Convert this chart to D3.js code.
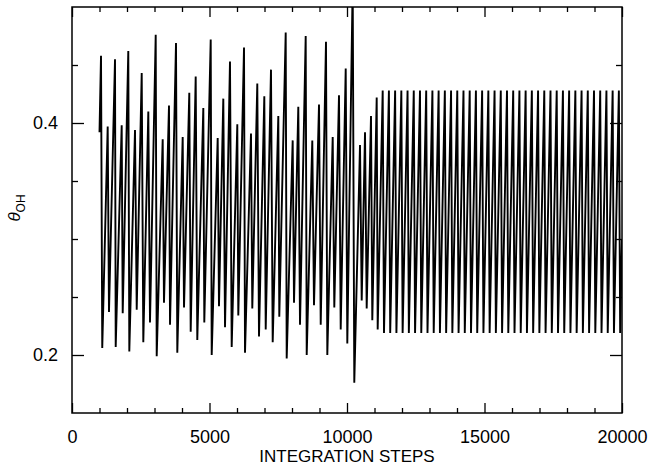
<!DOCTYPE html>
<html>
<head>
<meta charset="utf-8">
<script src="https://cdn.jsdelivr.net/npm/d3@7"></script>
<style>
  body { margin: 0; background: #fff; }
  svg { display: block; }
  text { font-family: "Liberation Sans", Arial, sans-serif; fill: #000; }
</style>
</head>
<body>
<div id="chart"></div>
<script>
// values (integration steps / theta_OH)
const startStep = 1000, startTheta = 0.392;
const endStep = 20000, endTheta = 0.300;

const peakStep = [
  1055, 1298, 1564, 1807, 2047, 2291, 2535, 2775, 3044, 3298,
  3527, 3782, 4025, 4265, 4498, 4775, 5044, 5298, 5502, 5745,
  6011, 6255, 6509, 6738, 6993, 7236, 7502, 7771, 8025, 8229,
  8498, 8738, 8982, 9236, 9480, 9709, 9953, 10207, 10473, 10655,
  10873, 11080, 11298,
  11524, 11750, 11976, 12202, 12428, 12654, 12880, 13106, 13332, 13558,
  13784, 14010, 14236, 14462, 14688, 14914, 15140, 15366, 15592, 15818,
  16044, 16270, 16496, 16722, 16948, 17174, 17400, 17626, 17852, 18078,
  18304, 18530, 18756, 18982, 19208, 19434, 19660, 19886
];
const peakTheta = [
  0.458, 0.397, 0.455, 0.398, 0.462, 0.394, 0.443, 0.410, 0.476, 0.386,
  0.415, 0.469, 0.388, 0.426, 0.440, 0.413, 0.472, 0.387, 0.421, 0.453,
  0.399, 0.465, 0.391, 0.434, 0.423, 0.446, 0.406, 0.478, 0.385, 0.414,
  0.475, 0.385, 0.416, 0.470, 0.388, 0.424, 0.447, 0.520, 0.381, 0.392,
  0.406, 0.422, 0.428,
  0.428, 0.428, 0.428, 0.428, 0.428, 0.428, 0.428, 0.428, 0.428, 0.428,
  0.428, 0.428, 0.428, 0.428, 0.428, 0.428, 0.428, 0.428, 0.428, 0.428,
  0.428, 0.428, 0.428, 0.428, 0.428, 0.428, 0.428, 0.428, 0.428, 0.428,
  0.428, 0.428, 0.428, 0.428, 0.428, 0.428, 0.428, 0.428
];
const troughStep = [
  1100, 1345, 1589, 1844, 2084, 2353, 2593, 2836, 3080, 3345,
  3564, 3829, 4073, 4316, 4556, 4811, 5080, 5345, 5564, 5807,
  6047, 6291, 6556, 6800, 7044, 7298, 7538, 7807, 8073, 8291,
  8535, 8800, 9044, 9284, 9538, 9771, 10011, 10265, 10535, 10716,
  10920, 11116, 11345,
  11571, 11797, 12023, 12249, 12475, 12701, 12927, 13153, 13379, 13605,
  13831, 14057, 14283, 14509, 14735, 14961, 15187, 15413, 15639, 15865,
  16091, 16317, 16543, 16769, 16995, 17221, 17447, 17673, 17899, 18125,
  18351, 18577, 18803, 19029, 19255, 19481, 19707, 19933
];
const troughTheta = [
  0.206, 0.237, 0.207, 0.236, 0.203, 0.239, 0.211, 0.228, 0.199, 0.245,
  0.226, 0.202, 0.241, 0.220, 0.213, 0.228, 0.200, 0.242, 0.224, 0.207,
  0.234, 0.202, 0.240, 0.216, 0.222, 0.211, 0.233, 0.197, 0.245, 0.226,
  0.200, 0.243, 0.226, 0.200, 0.241, 0.222, 0.210, 0.176, 0.247, 0.240,
  0.230, 0.222, 0.219,
  0.219, 0.219, 0.219, 0.219, 0.219, 0.219, 0.219, 0.219, 0.219, 0.219,
  0.219, 0.219, 0.219, 0.219, 0.219, 0.219, 0.219, 0.219, 0.219, 0.219,
  0.219, 0.219, 0.219, 0.219, 0.219, 0.219, 0.219, 0.219, 0.219, 0.219,
  0.219, 0.219, 0.219, 0.219, 0.219, 0.219, 0.219, 0.219
];

const xMajorTicks = [0, 5000, 10000, 15000, 20000];
const xMinorTicks = [1000, 2000, 3000, 4000, 6000, 7000, 8000, 9000, 11000, 12000, 13000, 14000, 16000, 17000, 18000, 19000];
const yMajorTicks = [0.2, 0.4];
const yMinorTicks = [0.25, 0.3, 0.35, 0.45];

const width = 650, height = 466;
const plotLeft = 72, plotRight = 622, plotTop = 7, plotBottom = 413;

const svg = d3.select('#chart').append('svg')
  .attr('width', width)
  .attr('height', height);

const x = d3.scaleLinear().domain([0, 20000]).range([plotLeft, plotRight]);
const y = d3.scaleLinear().domain([0.15, 0.5]).range([plotBottom, plotTop]);

// interleave peaks and troughs into one series
const series = [[startStep, startTheta]];
peakStep.forEach((s, i) => {
  series.push([s, peakTheta[i]]);
  series.push([troughStep[i], troughTheta[i]]);
});
series.push([endStep, endTheta]);

svg.append('clipPath').attr('id', 'clip')
  .append('rect')
  .attr('x', plotLeft).attr('y', plotTop)
  .attr('width', plotRight - plotLeft).attr('height', plotBottom - plotTop);

svg.append('path')
  .datum(series)
  .attr('clip-path', 'url(#clip)')
  .attr('fill', 'none')
  .attr('stroke', '#000')
  .attr('stroke-width', 1.9)
  .attr('d', d3.line().x(d => x(d[0])).y(d => y(d[1])));

// axes, ticks pointing inward
function addAxis(axis, tx, ty) {
  const g = svg.append('g')
    .attr('transform', `translate(${tx},${ty})`)
    .call(axis);
  g.select('.domain').remove();
  g.selectAll('line').attr('stroke', '#000').attr('stroke-width', 1.3);
  g.selectAll('text').style('font-size', '18px').attr('fill', '#000');
  return g;
}

addAxis(d3.axisBottom(x).tickValues(xMajorTicks).tickSize(-10).tickSizeOuter(0).tickPadding(17).tickFormat(d3.format('d')), 0, plotBottom);
addAxis(d3.axisBottom(x).tickValues(xMinorTicks).tickSize(-5).tickSizeOuter(0).tickFormat(''), 0, plotBottom);
addAxis(d3.axisTop(x).tickValues(xMajorTicks).tickSize(-10).tickSizeOuter(0).tickFormat(''), 0, plotTop);
addAxis(d3.axisTop(x).tickValues(xMinorTicks).tickSize(-5).tickSizeOuter(0).tickFormat(''), 0, plotTop);

addAxis(d3.axisLeft(y).tickValues(yMajorTicks).tickSize(-12).tickSizeOuter(0).tickPadding(14).tickFormat(d3.format('.1f')), plotLeft, 0);
addAxis(d3.axisLeft(y).tickValues(yMinorTicks).tickSize(-6).tickSizeOuter(0).tickFormat(''), plotLeft, 0);
addAxis(d3.axisRight(y).tickValues(yMajorTicks).tickSize(-12).tickSizeOuter(0).tickFormat(''), plotRight, 0);
addAxis(d3.axisRight(y).tickValues(yMinorTicks).tickSize(-6).tickSizeOuter(0).tickFormat(''), plotRight, 0);

// frame
svg.append('rect')
  .attr('x', plotLeft).attr('y', plotTop)
  .attr('width', plotRight - plotLeft).attr('height', plotBottom - plotTop)
  .attr('fill', 'none')
  .attr('stroke', '#000')
  .attr('stroke-width', 1.5);

// axis titles
svg.append('text')
  .attr('x', (plotLeft + plotRight) / 2)
  .attr('y', 462)
  .attr('text-anchor', 'middle')
  .style('font-size', '17px')
  .text('INTEGRATION STEPS');

const yLabel = svg.append('text')
  .attr('transform', `translate(20,${(plotTop + plotBottom) / 2 - 2}) rotate(-90)`)
  .attr('text-anchor', 'middle')
  .style('font-size', '17px');
yLabel.append('tspan').style('font-style', 'italic').text('θ');
yLabel.append('tspan').attr('dy', 5).style('font-size', '12px').text('OH');
</script>
</body>
</html>
